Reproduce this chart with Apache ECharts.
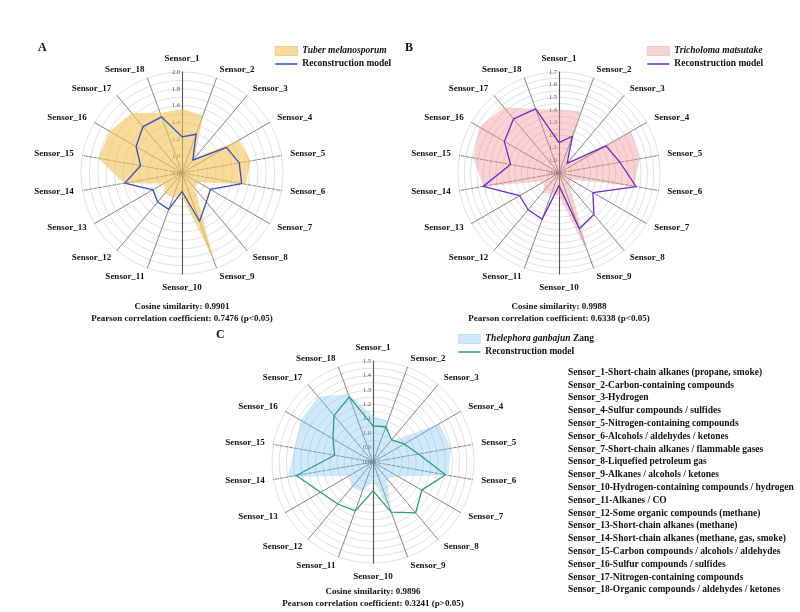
<!DOCTYPE html>
<html><head><meta charset="utf-8">
<script src="https://cdn.jsdelivr.net/npm/echarts@6/dist/echarts.min.js"></script>
<style>html,body{margin:0;padding:0;background:#fff}#c{width:800px;height:612px}</style>
</head><body><div id="c"></div>
<script>
// ---------- data (sensor order 1..18) ----------
const sensors = ['Sensor_1','Sensor_2','Sensor_3','Sensor_4','Sensor_5','Sensor_6','Sensor_7','Sensor_8','Sensor_9',
  'Sensor_10','Sensor_11','Sensor_12','Sensor_13','Sensor_14','Sensor_15','Sensor_16','Sensor_17','Sensor_18'];
const sensorDesc = [
  'Sensor_1-Short-chain alkanes (propane, smoke)',
  'Sensor_2-Carbon-containing compounds',
  'Sensor_3-Hydrogen',
  'Sensor_4-Sulfur compounds / sulfides',
  'Sensor_5-Nitrogen-containing compounds',
  'Sensor_6-Alcohols / aldehydes / ketones',
  'Sensor_7-Short-chain alkanes / flammable gases',
  'Sensor_8-Liquefied petroleum gas',
  'Sensor_9-Alkanes / alcohols / ketones',
  'Sensor_10-Hydrogen-containing compounds / hydrogen',
  'Sensor_11-Alkanes / CO',
  'Sensor_12-Some organic compounds (methane)',
  'Sensor_13-Short-chain alkanes (methane)',
  'Sensor_14-Short-chain alkanes (methane, gas, smoke)',
  'Sensor_15-Carbon compounds / alcohols / aldehydes',
  'Sensor_16-Sulfur compounds / sulfides',
  'Sensor_17-Nitrogen-containing compounds',
  'Sensor_18-Organic compounds / aldehydes / ketones'
];
const tuberSample = [1.56,1.53,1.03,1.58,1.63,1.57,1.02,1.04,1.90,1.08,1.10,1.12,1.05,1.50,1.81,1.79,1.73,1.56];
const tuberModel  = [1.23,1.29,1.00,1.41,1.49,1.52,1.19,1.25,1.41,1.02,1.26,1.25,1.20,1.49,1.30,1.43,1.52,1.51];
const trichSample = [1.40,1.42,0.99,1.56,1.55,1.50,1.00,1.03,1.61,1.08,1.08,1.10,1.03,1.51,1.59,1.63,1.58,1.44];
const trichModel  = [1.14,1.21,1.00,1.33,1.39,1.52,1.21,1.33,1.37,1.00,1.29,1.28,1.26,1.51,1.29,1.40,1.46,1.44];
const theleSample = [1.12,1.10,0.98,1.33,1.35,1.33,1.00,0.95,1.16,0.93,1.02,1.03,0.99,1.40,1.35,1.38,1.39,1.30];
const theleModel  = [1.05,1.06,1.00,1.05,1.12,1.31,1.19,1.26,1.17,1.00,1.16,1.18,1.22,1.34,1.07,1.12,1.22,1.28];
const ranges = {A:[0.8,2.0,12,0.2], B:[0.9,1.7,16,0.1], C:[0.8,1.5,14,0.1]};
const statsA = ['Cosine similarity: 0.9901','Pearson correlation coefficient: 0.7476 (p<0.05)'];
const statsB = ['Cosine similarity: 0.9988','Pearson correlation coefficient: 0.6338 (p<0.05)'];
const statsC = ['Cosine similarity: 0.9896','Pearson correlation coefficient: 0.3241 (p>0.05)'];

// ---------- helpers ----------
const FONT = 'Liberation Serif';
const order = [0]; for (let i = 17; i >= 1; i--) order.push(i); // clockwise layout
const dashed = new Set([4,5,13,14]);
const reorder = arr => order.map(i => arr[i]);

function makeRadar(center, key) {
  const [mn, mx, split, labStep] = ranges[key];
  return {
    center: center, radius: 101, startAngle: 90, shape: 'circle', splitNumber: split,
    indicator: order.map(i => ({
      name: sensors[i], min: mn, max: mx,
      axisLine: { lineStyle: { type: dashed.has(i) ? 'dashed' : 'solid', color: i === 0 || i === 9 ? '#555' : '#6a6a6a', width: i === 0 || i === 9 ? 1.1 : 0.8 } },
      axisLabel: { show: i === 0 }
    })),
    axisName: { color: '#111', fontFamily: FONT, fontWeight: 'bold', fontSize: 9 },
    nameGap: 9,
    splitLine: { lineStyle: { color: '#d9d9d9', width: 0.8 } },
    splitArea: { show: false },
    axisLine: { lineStyle: { color: '#6a6a6a' } },
    axisTick: { show: false },
    axisLabel: {
      show: false, color: '#555', fontFamily: FONT, fontSize: 6.5, margin: 2,
      formatter: v => {
        const k = Math.round((v - mn) * 1000);
        const s = Math.round(labStep * 1000);
        return k % s === 0 ? (Math.round(v * 10) / 10).toFixed(1) : '';
      }
    }
  };
}

function areaSeries(idx, name, vals, fill) {
  return { type: 'radar', radarIndex: idx, symbol: 'none', z: 2,
    data: [{ name: name, value: reorder(vals),
      itemStyle: { color: fill }, lineStyle: { width: 0, color: fill },
      areaStyle: { color: fill, opacity: 1 } }] };
}
function lineSeries(idx, vals, color) {
  return { type: 'radar', radarIndex: idx, symbol: 'none', z: 3,
    data: [{ name: 'Reconstruction model', value: reorder(vals),
      itemStyle: { color: color }, lineStyle: { width: 1.3, color: color } }] };
}
const lineIcon = 'path://M0,0H0.01V0.01H0Z M0,3.8H22V5.2H0Z M21.99,8.99H22V9H21.99Z';
function makeLegend(left, top, speciesName, italicPart, fill, border, lineColor) {
  return {
    orient: 'vertical', left: left, top: top, itemWidth: 22, itemHeight: 9, itemGap: 3,
    padding: 0,
    data: [
      { name: speciesName, icon: 'rect', itemStyle: { color: fill, borderColor: border, borderWidth: 0.6 } },
      { name: 'Reconstruction model', icon: lineIcon, itemStyle: { color: lineColor, borderWidth: 0 } }
    ],
    formatter: n => n === speciesName ? ('{i|' + italicPart + '}' + speciesName.slice(italicPart.length)) : n,
    textStyle: { fontFamily: FONT, fontWeight: 'bold', fontSize: 9.5, color: '#111',
      rich: { i: { fontFamily: FONT, fontWeight: 'bold', fontStyle: 'italic', fontSize: 9.5, color: '#111' } } },
    selectedMode: false
  };
}

const fillA = 'rgba(244,196,90,0.62)', fillB = 'rgba(240,150,150,0.42)', fillC = 'rgba(120,195,240,0.36)';
const colA = '#3550c2', colB = '#6b2fc4', colC = '#2b9e78';

const titleBase = { textStyle: { fontFamily: FONT, fontWeight: 'bold', fontSize: 9, color: '#111', lineHeight: 12.5 } };
function statTitle(x, y, lines) {
  return Object.assign({}, titleBase, { text: lines.join('\n'), left: x, top: y, textAlign: 'center', padding: 0,
    textStyle: Object.assign({}, titleBase.textStyle, { align: 'center' }) });
}
function letter(t, x, y) {
  return { text: t, left: x, top: y, padding: 0, textStyle: { fontFamily: FONT, fontWeight: 'bold', fontSize: 12, color: '#111' } };
}

const option = {
  backgroundColor: '#fff',
  animation: false,
  title: [
    letter('A', 38, 42), letter('B', 405, 42), letter('C', 216, 329),
    statTitle(182, 300, statsA), statTitle(559, 300, statsB), statTitle(373, 585, statsC),
    { text: sensorDesc.join('\n'), left: 568, top: 366, padding: 0,
      textStyle: { fontFamily: FONT, fontWeight: 'bold', fontSize: 9.5, color: '#111', lineHeight: 12.8 } }
  ],
  legend: [
    makeLegend(275, 46, 'Tuber melanosporum', 'Tuber melanosporum', fillA, '#e0b860', colA),
    makeLegend(647, 46, 'Tricholoma matsutake', 'Tricholoma matsutake', fillB, '#e8b0b0', colB),
    makeLegend(458, 334, 'Thelephora ganbajun Zang', 'Thelephora ganbajun', fillC, '#a8d0ee', colC)
  ],
  radar: [ makeRadar([182, 173], 'A'), makeRadar([559, 173], 'B'), makeRadar([373, 462], 'C') ],
  series: [
    areaSeries(0, 'Tuber melanosporum', tuberSample, fillA), lineSeries(0, tuberModel, colA),
    areaSeries(1, 'Tricholoma matsutake', trichSample, fillB), lineSeries(1, trichModel, colB),
    areaSeries(2, 'Thelephora ganbajun Zang', theleSample, fillC), lineSeries(2, theleModel, colC)
  ]
};
const chart = echarts.init(document.getElementById('c'), null, { renderer: 'canvas' });
chart.setOption(option);
</script>
</body></html>
